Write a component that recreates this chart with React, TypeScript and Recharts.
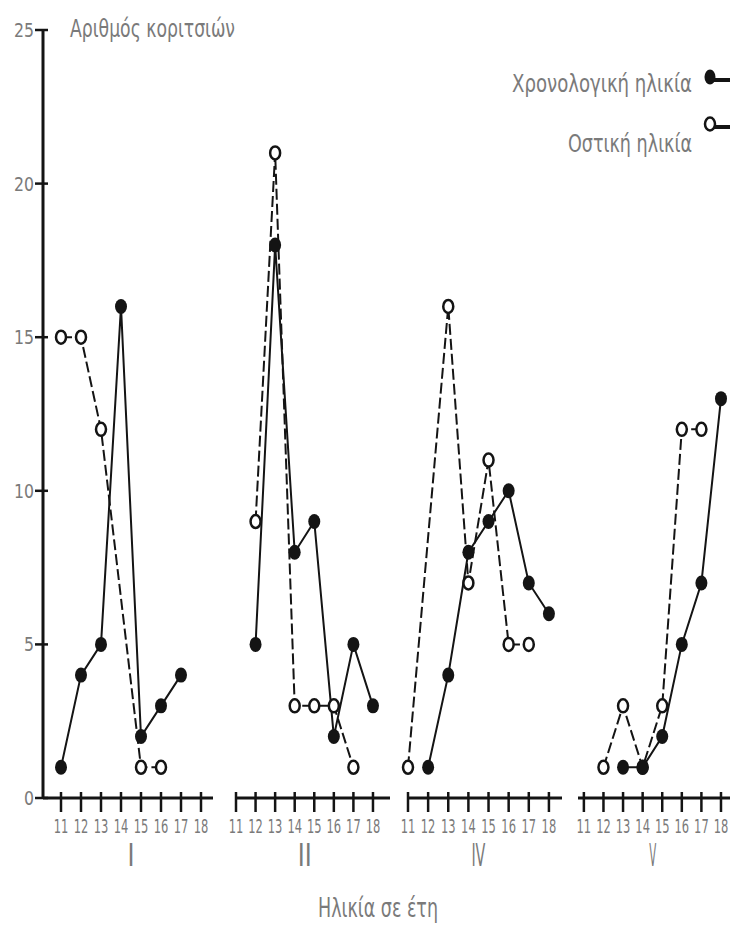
import React from 'react';
import { LineChart, Line, XAxis, YAxis } from 'recharts';

// ages on every panel axis
const ages = [11, 12, 13, 14, 15, 16, 17, 18];
const yTicks = [0, 5, 10, 15, 20, 25];
const groupLabels = ['I', 'II', 'IV', 'V'];

// number of girls per age, chronological age (filled) and bone age (open)
const chronoI = [1, 4, 5, 16, 2, 3, 4, null];
const boneI = [15, 15, 12, null, 1, 1, null, null];
const chronoII = [null, 5, 18, 8, 9, 2, 5, 3];
const boneII = [null, 9, 21, 3, 3, 3, 1, null];
const chronoIV = [null, 1, 4, 8, 9, 10, 7, 6];
const boneIV = [1, null, 16, 7, 11, 5, 5, null];
const chronoV = [null, null, 1, 1, 2, 5, 7, 13];
const boneV = [null, 1, 3, 1, 3, 12, 12, null];

const INK = '#141414';
const TEXT = '#7a7a7a';
const FONT = '"DejaVu Sans Condensed", "Liberation Sans Narrow", Roboto, sans-serif';

const panels = [
  { label: groupLabels[0], chrono: chronoI, bone: boneI, left: -10, width: 233, domain: [10.1, 18.6], showY: true },
  { label: groupLabels[1], chrono: chronoII, bone: boneII, left: 226, width: 174, domain: [11, 18.87], showY: false },
  { label: groupLabels[2], chrono: chronoIV, bone: boneIV, left: 398, width: 174, domain: [11, 18.65], showY: false },
  { label: groupLabels[3], chrono: chronoV, bone: boneV, left: 568, width: 172, domain: [10.7, 18.46], showY: false },
];

const FilledDot = (props: any) => {
  const { cx, cy, key } = props;
  if (cx == null || cy == null || props.value == null) return null;
  return <ellipse key={key} cx={cx} cy={cy} rx={6} ry={7.5} fill={INK} />;
};

const OpenDot = (props: any) => {
  const { cx, cy, key } = props;
  if (cx == null || cy == null || props.value == null) return null;
  return <ellipse key={key} cx={cx} cy={cy} rx={5} ry={6.5} fill="#fff" stroke={INK} strokeWidth={2.5} />;
};

const XTick = (props: any) => {
  const { x, y, payload, group } = props;
  return (
    <g>
      <line x1={x} x2={x} y1={y - 6} y2={y + 14} stroke={INK} strokeWidth={2.5} />
      <text x={x} y={y + 35} textAnchor="middle" fontSize={15} fill={TEXT} fontFamily={FONT}
        transform={`translate(${x},${y + 35}) scale(0.85,1.35) translate(${-x},${-(y + 35)})`}>{payload.value}</text>
      {payload.value === 14 && (
        <text x={x + 10} y={y + 68} textAnchor="middle" fontSize={32} fill={TEXT} fontFamily={FONT}
          textLength={group.length * 7} lengthAdjust="spacingAndGlyphs">{group}</text>
      )}
    </g>
  );
};

const YTick = (props: any) => {
  const { x, y, payload } = props;
  const s = String(payload.value);
  return (
    <g>
      <line x1={x - 8} x2={x + 5} y1={y} y2={y} stroke={INK} strokeWidth={2.5} />
      <text x={x - 9} y={y + 7} textAnchor="end" fontSize={19} fill={TEXT} fontFamily={FONT}
        textLength={s.length * 10} lengthAdjust="spacingAndGlyphs">{s}</text>
    </g>
  );
};

function Panel({ panel }: { panel: (typeof panels)[number] }) {
  const rows = ages.map((age, i) => ({ age, chrono: panel.chrono[i], bone: panel.bone[i] }));
  return (
    <div style={{ position: 'absolute', left: panel.left, top: 0 }}>
      <LineChart width={panel.width} height={926} data={rows}
        margin={{ top: 30, right: 10, bottom: 48, left: 10 }}>
        <XAxis dataKey="age" type="number" domain={panel.domain} ticks={ages} interval={0}
          height={80} tickSize={0} tickMargin={0} tickLine={false}
          axisLine={{ stroke: INK, strokeWidth: 3 }}
          tick={(p: any) => <XTick {...p} group={panel.label} />} />
        <YAxis type="number" domain={[0, 25]} ticks={yTicks} width={43} hide={!panel.showY}
          tickSize={0} tickMargin={0} tickLine={false}
          axisLine={{ stroke: INK, strokeWidth: 3 }} tick={YTick} />
        <Line type="linear" dataKey="bone" stroke={INK} strokeWidth={2} strokeDasharray="11 4"
          connectNulls dot={OpenDot} activeDot={false} isAnimationActive={false} />
        <Line type="linear" dataKey="chrono" stroke={INK} strokeWidth={2}
          connectNulls dot={FilledDot} activeDot={false} isAnimationActive={false} />
      </LineChart>
    </div>
  );
}

export default function App() {
  return (
    <div style={{ position: 'absolute', left: 0, top: 0, width: 730, height: 926, overflow: 'hidden', background: '#fff' }}>
      {panels.map((p) => <Panel key={p.label} panel={p} />)}
      <svg width={730} height={926} style={{ position: 'absolute', left: 0, top: 0, pointerEvents: 'none' }}>
        <g fontFamily={FONT} fill={TEXT}>
          <text x={70} y={37} fontSize={24} textLength={165} lengthAdjust="spacingAndGlyphs">Αριθμός κοριτσιών</text>
          <text x={692} y={92} fontSize={24} textAnchor="end" textLength={180} lengthAdjust="spacingAndGlyphs">Χρονολογική ηλικία</text>
          <text x={692} y={152} fontSize={24} textAnchor="end" textLength={124} lengthAdjust="spacingAndGlyphs">Οστική ηλικία</text>
          <text x={378} y={917} fontSize={26} textAnchor="middle" textLength={120} lengthAdjust="spacingAndGlyphs">Ηλικία σε έτη</text>
        </g>
        <line x1={710} x2={730} y1={80} y2={80} stroke={INK} strokeWidth={4} />
        <ellipse cx={710} cy={77} rx={5.5} ry={7.5} fill={INK} />
        <line x1={710} x2={730} y1={127} y2={127} stroke={INK} strokeWidth={4} />
        <ellipse cx={710} cy={124} rx={5} ry={6.5} fill="#fff" stroke={INK} strokeWidth={2.5} />
      </svg>
    </div>
  );
}
